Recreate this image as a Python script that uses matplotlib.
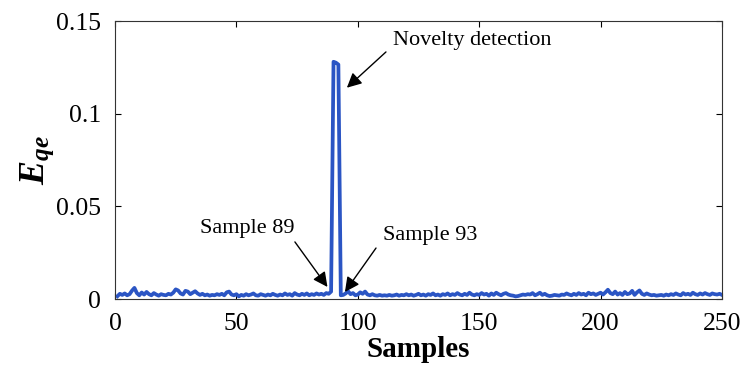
import numpy as np
import matplotlib
matplotlib.use('Agg')
import matplotlib.pyplot as plt

# Quantization error per sample, in units of 1e-3
eqe_1_50 = [1.5, 2.8, 2.2, 3.0, 2.0, 2.6, 4.5, 6.0, 3.2, 2.0,
            3.5, 2.4, 3.8, 2.6, 2.0, 3.2, 2.4, 1.8, 2.6, 2.2,
            2.0, 2.8, 2.4, 3.4, 5.2, 4.6, 3.0, 2.4, 4.4, 4.0,
            2.6, 3.4, 4.2, 3.0, 2.2, 2.8, 2.0, 2.4, 1.8, 2.2,
            2.0, 2.6, 2.2, 2.8, 2.0, 3.6, 4.0, 2.4, 2.0, 2.6]
eqe_51_88 = [1.4, 2.2, 1.8, 2.6, 2.0, 2.4, 3.0, 2.0, 1.8, 2.6,
             2.2, 1.8, 2.4, 2.0, 2.8, 2.2, 1.8, 2.4, 2.0, 3.0,
             2.2, 2.6, 1.8, 3.2, 2.4, 2.0, 2.8, 2.2, 3.0, 2.0,
             2.6, 2.2, 3.0, 2.4, 2.8, 2.2, 3.2, 2.8]
eqe_89_93 = [4.0, 128.0, 127.5, 126.5, 2.0]
eqe_94_150 = [2.2, 3.0, 4.2, 2.6, 3.2, 2.0, 2.4, 3.6, 2.8, 4.0,
              2.4, 2.0, 2.6, 2.0, 1.8, 2.2, 1.8, 2.0, 1.8, 2.2,
              1.8, 2.0, 2.4, 1.8, 2.2, 2.0, 2.6, 2.0, 2.4, 1.8,
              2.2, 2.8, 2.0, 2.4, 1.8, 2.6, 2.2, 3.0, 2.0, 2.4,
              1.8, 2.6, 2.2, 3.0, 2.0, 2.6, 2.2, 3.2, 2.4, 2.0,
              2.8, 2.2, 3.4, 2.4, 2.0, 2.6, 2.2]
eqe_151_200 = [3.2, 2.4, 2.8, 1.8, 3.0, 2.2, 3.4, 2.6, 2.0, 2.8,
               3.2, 2.4, 2.0, 1.8, 1.4, 1.6, 2.0, 2.4, 2.2, 2.6,
               2.4, 3.2, 2.0, 2.6, 3.4, 2.2, 2.8, 2.0, 1.6, 1.8,
               2.2, 2.0, 1.8, 2.4, 2.2, 3.0, 2.4, 2.0, 2.8, 2.2,
               3.2, 2.4, 2.8, 2.0, 3.4, 2.6, 3.0, 2.2, 2.8, 3.4]
eqe_201_250 = [2.4, 3.6, 5.0, 3.2, 2.6, 4.0, 2.4, 3.2, 2.2, 3.8,
               2.6, 3.0, 4.4, 2.2, 3.6, 4.6, 2.8, 2.2, 3.0, 2.4,
               2.0, 2.2, 1.8, 2.0, 2.2, 1.8, 2.4, 2.0, 2.6, 2.2,
               3.0, 2.4, 2.0, 3.2, 2.4, 2.8, 2.2, 3.4, 2.6, 2.2,
               3.0, 2.4, 3.2, 2.6, 2.2, 3.0, 2.6, 2.4, 2.8, 2.2]

eqe = np.array(eqe_1_50 + eqe_51_88 + eqe_89_93 + eqe_94_150
               + eqe_151_200 + eqe_201_250) * 1e-3
samples = np.arange(1, len(eqe) + 1)

plt.rcParams['font.family'] = ['Liberation Serif', 'DejaVu Serif']
plt.rcParams['mathtext.fontset'] = 'custom'
plt.rcParams['mathtext.bf'] = 'Liberation Serif:bold'
plt.rcParams['mathtext.bfit'] = 'Liberation Serif:bold:italic'
plt.rcParams['mathtext.it'] = 'Liberation Serif:italic'

fig = plt.figure(figsize=(7.42, 3.71), dpi=100)
ax = fig.add_axes([115 / 742, 72 / 371, 607 / 742, 278 / 371])

ax.plot(samples, eqe, color='#2b55c4', linewidth=2.7)

ax.set_xlim(0, 250)
ax.set_ylim(0, 0.15)
ax.set_xticks([0, 50, 100, 150, 200, 250])
ax.set_yticks([0, 0.05, 0.1, 0.15])
ax.set_yticklabels(['0', '0.05', '0.1', '0.15'])
ax.tick_params(direction='in', top=True, right=True, labelsize=18.5,
               length=4, width=0.8)
ax.tick_params(axis='x', pad=10)
ax.tick_params(axis='y', pad=10)
for s in ax.spines.values():
    s.set_linewidth(0.8)
    s.set_color('#333333')

ax.set_xlabel('Samples', fontsize=21, fontweight='bold', labelpad=1)
ax.set_ylabel(r'$\mathbfit{E}_{\mathbfit{qe}}$', fontsize=26, labelpad=0)

arrow = dict(arrowstyle='-|>', color='black', lw=1.0,
             mutation_scale=22, shrinkA=0, shrinkB=0)
ax.text(114.5, 0.1397, 'Novelty detection', fontsize=16,
        ha='left', va='center')
ax.annotate('', xy=(95.5, 0.114), xytext=(111.6, 0.1333), arrowprops=arrow)
ax.text(54.4, 0.0378, 'Sample 89', fontsize=16, ha='center', va='center')
ax.annotate('', xy=(87.5, 0.0065), xytext=(74.1, 0.0308), arrowprops=arrow)
ax.text(130, 0.034, 'Sample 93', fontsize=16, ha='center', va='center')
ax.annotate('', xy=(94.7, 0.0038), xytext=(107.5, 0.0275), arrowprops=arrow)

fig.savefig('out.png', dpi=100)
